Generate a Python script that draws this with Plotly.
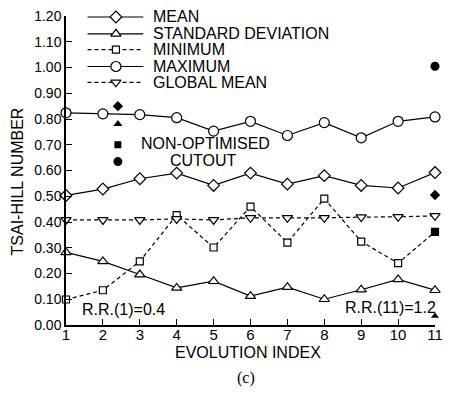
import plotly.graph_objects as go

evolution_index = [1, 2, 3, 4, 5, 6, 7, 8, 9, 10, 11]
mean_vals = [0.503, 0.528, 0.568, 0.590, 0.542, 0.590, 0.547, 0.580, 0.542, 0.532, 0.592]
std_vals = [0.282, 0.247, 0.196, 0.144, 0.170, 0.112, 0.147, 0.100, 0.137, 0.177, 0.135]
min_vals = [0.099, 0.135, 0.247, 0.427, 0.301, 0.460, 0.320, 0.491, 0.324, 0.240, 0.362]
max_vals = [0.824, 0.820, 0.817, 0.805, 0.753, 0.791, 0.736, 0.786, 0.727, 0.791, 0.808]
global_mean_vals = [0.408, 0.408, 0.408, 0.412, 0.408, 0.416, 0.416, 0.416, 0.419, 0.420, 0.424]

# non-optimised cutout (at evolution index 11)
nonopt_x = 11
nonopt_mean = 0.505
nonopt_std = 0.035
nonopt_min = 0.362
nonopt_max = 1.005

y_ticks = [0.0, 0.1, 0.2, 0.3, 0.4, 0.5, 0.6, 0.7, 0.8, 0.9, 1.0, 1.1, 1.2]

FONT = "Liberation Sans, Arial, Helvetica, sans-serif"
SERIF = "Liberation Serif, Times New Roman, serif"

series = [
    ("MEAN", mean_vals, "solid", "diamond", 9),
    ("STANDARD DEVIATION", std_vals, "solid", "triangle-up", 9),
    ("MINIMUM", min_vals, "dash", "square", 7),
    ("MAXIMUM", max_vals, "solid", "circle", 10),
    ("GLOBAL MEAN", global_mean_vals, "dash", "triangle-down", 9),
]

def dash_of(d):
    return "4px,3px" if d == "dash" else "solid"

fig = go.Figure()
for name, vals, dash, sym, sz in series:
    fig.add_trace(go.Scatter(
        x=evolution_index, y=vals, mode="lines+markers", name=name,
        line=dict(color="black", width=1.2, dash=dash_of(dash)),
        marker=dict(symbol=sym, size=sz, color="white", line=dict(width=1.2, color="black")),
        cliponaxis=False, showlegend=False,
    ))

# non-optimised cutout points
for val, sym, sz in [(nonopt_mean, "diamond", 8), (nonopt_std, "triangle-up", 7),
                     (nonopt_min, "square", 7), (nonopt_max, "circle", 9)]:
    fig.add_trace(go.Scatter(
        x=[nonopt_x], y=[val], mode="markers",
        marker=dict(symbol=sym, size=sz, color="black"),
        cliponaxis=False, showlegend=False,
    ))

# ---- manual legend on an overlay axis in page pixel coordinates ----
W, H = 451, 399
L, R, T, B = 66, 443, 13, 325

def px(x):
    return (x - L) / (R - L)

def py(y):
    return (B - y) / (B - T)

leg_rows = [14, 31, 47, 64, 80]
leg_x0, leg_x1, leg_mx, leg_tx = 88, 145, 117, 153
for (name, vals, dash, sym, sz), yy in zip(series, leg_rows):
    fig.add_trace(go.Scatter(
        x=[leg_x0, leg_x1], y=[yy, yy], mode="lines", xaxis="x2", yaxis="y2",
        line=dict(color="black", width=1.2, dash=dash_of(dash)),
        showlegend=False, cliponaxis=False, hoverinfo="skip",
    ))
    fig.add_trace(go.Scatter(
        x=[leg_mx], y=[yy], mode="markers", xaxis="x2", yaxis="y2",
        marker=dict(symbol=sym, size=sz, color="white", line=dict(width=1.2, color="black")),
        showlegend=False, cliponaxis=False, hoverinfo="skip",
    ))
    fig.add_annotation(x=px(leg_tx), y=py(yy), xref="paper", yref="paper", text=name,
                       showarrow=False, xanchor="left", yanchor="middle",
                       font=dict(family=FONT, size=16, color="black"))

# non-optimised key markers
for yy, sym, sz in [(104, "diamond", 8), (122, "triangle-up", 8), (143, "square", 7), (160, "circle", 9)]:
    fig.add_trace(go.Scatter(
        x=[119], y=[yy], mode="markers", xaxis="x2", yaxis="y2",
        marker=dict(symbol=sym, size=sz, color="black"),
        showlegend=False, cliponaxis=False, hoverinfo="skip",
    ))

def ann(x, y, text, xanchor="center", size=16, family=FONT, angle=0):
    fig.add_annotation(x=px(x), y=py(y), xref="paper", yref="paper", text=text,
                       showarrow=False, xanchor=xanchor, yanchor="middle", textangle=angle,
                       font=dict(family=family, size=size, color="black"))

ann(209, 142, "NON-OPTIMISED")
ann(206, 159, "CUTOUT")
ann(125, 309, "R.R.(1)=0.4")
ann(446, 307, "R.R.(11)=1.2", xanchor="right")
ann(252, 353, "EVOLUTION INDEX", size=16)
ann(16, 180, "TSAI-HILL NUMBER", angle=-90)
ann(250, 379, "(c)", family=SERIF, size=16)

fig.update_layout(
    width=W, height=H,
    margin=dict(l=L, r=W - R, t=T, b=H - B, pad=0),
    paper_bgcolor="white", plot_bgcolor="white",
    font=dict(family=FONT, size=14, color="black"),
    xaxis=dict(range=[1, 11], tickmode="array", tickvals=evolution_index,
               ticks="inside", ticklen=6, tickwidth=1.2, tickcolor="black",
               showline=True, linecolor="black", linewidth=1.5, showgrid=False,
               zeroline=False, ticklabelstandoff=-5, tickfont=dict(family=FONT, size=15)),
    yaxis=dict(range=[0, 1.2], tickmode="array", tickvals=y_ticks,
               tickformat=".2f", ticks="inside", ticklen=6, tickwidth=1.2, tickcolor="black",
               showline=True, linecolor="black", linewidth=1.5, showgrid=False,
               zeroline=False, tickfont=dict(family=FONT, size=14)),
    xaxis2=dict(range=[L, R], overlaying="x", visible=False, anchor="y2"),
    yaxis2=dict(range=[B, T], overlaying="y", visible=False, anchor="x2"),
    showlegend=False,
)

fig.write_html("out.html")
